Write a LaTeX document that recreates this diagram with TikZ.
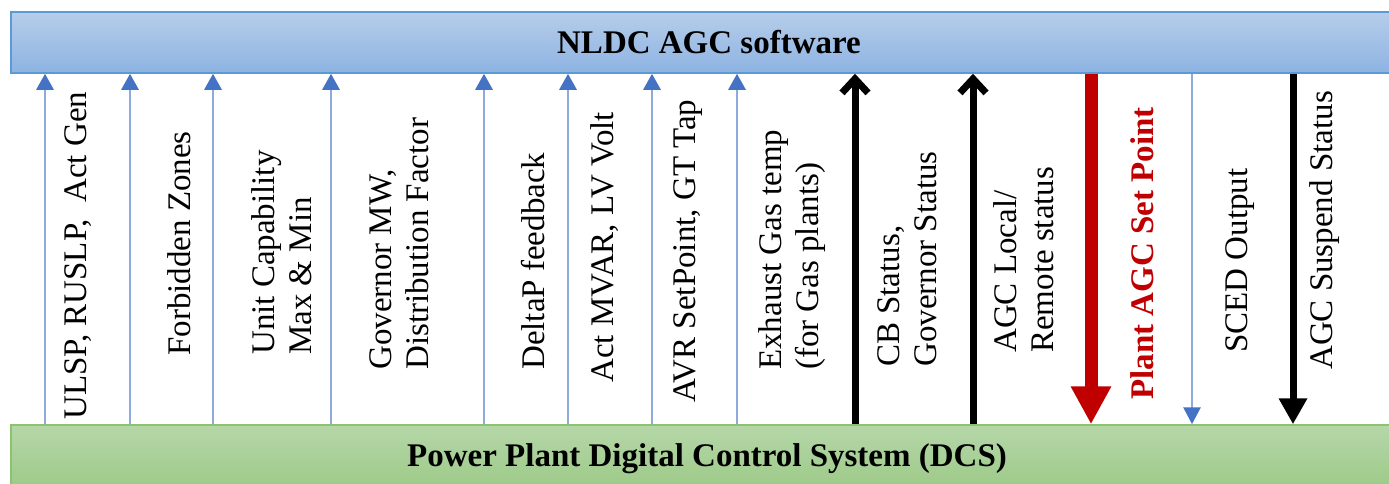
\documentclass[tikz,border=0pt]{standalone}
\usepackage{fontspec}
\setmainfont{Liberation Serif}
\usetikzlibrary{arrows.meta}
\definecolor{blueline}{HTML}{8FAADC}
\definecolor{bluehead}{HTML}{4472C4}
\definecolor{topA}{HTML}{B6CDEA}
\definecolor{topB}{HTML}{8DB3E2}
\definecolor{topBorder}{HTML}{5B9BD5}
\definecolor{botA}{HTML}{B6D7A9}
\definecolor{botB}{HTML}{9BC985}
\definecolor{botBorder}{HTML}{8CC36E}
\definecolor{redset}{HTML}{C00000}
\begin{document}
\begin{tikzpicture}[x=1pt,y=-1pt,
  lbl/.style={rotate=90,anchor=west,align=left,inner sep=0pt,font=\fontsize{33}{37}\selectfont},
  upblue/.style={draw=blueline,line width=2.8pt,-{Triangle[width=17pt,length=16pt,color=bluehead]}},
  downblue/.style={draw=blueline,line width=2.8pt,-{Triangle[width=17pt,length=17pt,color=bluehead]}},
  upblack/.style={draw=black,line width=7pt,-{Straight Barb[width=26pt,length=14pt]}},
  downblack/.style={draw=black,line width=7pt,-{Triangle[width=27pt,length=26pt]}},
  downred/.style={draw=redset,line width=13pt,-{Triangle[width=38pt,length=38pt]}},
  boxfont/.style={font=\fontsize{33}{37}\selectfont\bfseries}
]
\useasboundingbox (0,0) rectangle (1389,483);
% boxes
\node[draw=topBorder,line width=1.5pt,top color=topA,bottom color=topB,
      minimum width=1396pt,minimum height=61pt,inner sep=0pt,boxfont] (nldc) at (709,42.5) {NLDC AGC software};
\node[draw=botBorder,line width=1.5pt,top color=botA,bottom color=botB,
      minimum width=1392pt,minimum height=68pt,inner sep=0pt,boxfont] (dcs) at (707,459) {Power Plant Digital Control System (DCS)};
% upward blue arrows
\foreach \xx in {45,130,213,331,484,568,652,737}{
  \draw[upblue] (dcs.north -| \xx,0) -- (nldc.south -| \xx,0);
}
% black up arrows
\draw[upblack] (dcs.north -| 855,0) -- (nldc.south -| 855,0);
\draw[upblack] (dcs.north -| 973,0) -- (nldc.south -| 973,0);
% red down arrow
\draw[downred] (nldc.south -| 1091,0) -- (dcs.north -| 1091,0);
% blue down
\draw[downblue] (nldc.south -| 1192,0) -- (dcs.north -| 1192,0);
% black down
\draw[downblack] (nldc.south -| 1293,0) -- (dcs.north -| 1293,0);
% labels
\node[lbl] (l1) at (78,420) {ULSP,\ RUSLP,\ \ Act Gen};
\node[lbl] (l2) at (179,356) {Forbidden Zones};
\node[lbl] (l3) at (282,355) {Unit Capability\\Max \& Min};
\node[lbl] (l4) at (399,370) {Governor MW,\\Distribution Factor};
\node[lbl] (l5) at (533,370) {DeltaP feedback};
\node[lbl] (l6) at (605,383) {Act MVAR, LV Volt};
\node[lbl] (l7) at (688,403) {AVR SetPoint, GT Tap};
\node[lbl] (l8) at (792,370) {Exhaust Gas temp\\(for Gas plants)};
\node[lbl] (l9) at (907,367) {CB Status,\\Governor Status};
\node[lbl] (l10) at (1024,353) {AGC Local/\\Remote status};
\node[lbl,text=redset,font=\fontsize{33}{37}\selectfont\bfseries] (l11) at (1142,400) {Plant AGC Set Point};
\node[lbl] (l12) at (1240,353) {SCED Output};
\node[lbl] (l13) at (1325,370) {AGC Suspend Status};
\end{tikzpicture}
\end{document}
